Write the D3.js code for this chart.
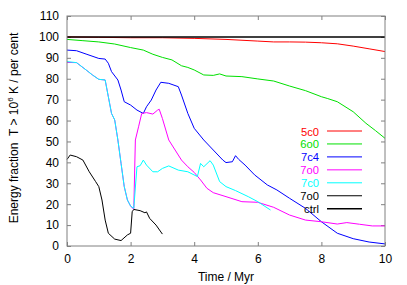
<!DOCTYPE html>
<html>
<head>
<meta charset="utf-8">
<script src="https://cdn.jsdelivr.net/npm/d3@7"></script>
<style>
  body { margin: 0; background: #fff; }
  text { font-family: "Liberation Sans", Arial, sans-serif; }
</style>
</head>
<body>
<script>
// series as [time / Myr, per cent]
var s5c0 = [[0,100],[1,99.8],[2,99.6],[3,99.6],[4,99.3],[5,98.8],[6,98],[6.5,97.6],[7,97.6],[7.5,97.5],[8,97.2],[8.5,96.7],[9,95.6],[9.5,94.3],[10,93]];
var s6o0 = [[0,98.8],[0.5,98.2],[1,97.6],[1.5,96.6],[2,94.9],[2.4,93.7],[2.7,91.7],[3,90.2],[3.3,89],[3.6,86.2],[3.8,85.4],[4,84.2],[4.3,81.8],[4.6,81.6],[4.8,82.3],[5,81.3],[5.5,81],[6,79.9],[6.5,78.9],[7,76.5],[7.5,74.3],[8,71.4],[8.2,70.5],[8.5,69],[9,64.2],[9.4,58.7],[9.7,55.2],[10,51.5]];
var s7c4 = [[0,93.7],[0.3,93.4],[0.6,91.8],[1,89.7],[1.2,89.4],[1.3,87.4],[1.4,83.4],[1.6,79.4],[1.7,74.6],[1.8,69],[2,67.4],[2.2,65],[2.4,63.4],[2.5,66.6],[2.65,69.8],[2.8,74.6],[2.95,78.3],[3.2,77.8],[3.5,76.2],[3.6,72.2],[3.8,63.4],[4,56.3],[4.3,50.7],[4.6,45.9],[4.9,41.1],[5,39.9],[5.2,40.3],[5.3,43.2],[5.4,41.4],[5.6,38.7],[5.9,34],[6.3,29.2],[6.6,26.8],[7,22.8],[7.5,18],[8,11.6],[8.5,6.1],[9,3.5],[9.5,1.9],[10,1]];
var s7o0 = [[0,87.8],[0.3,87.7],[0.6,84.2],[0.8,81.8],[1,79.7],[1.2,79.4],[1.3,71.4],[1.4,63.4],[1.5,60.3],[1.6,50.7],[1.7,39.5],[1.8,28.4],[1.9,22],[2,19.1],[2.1,17.5],[2.15,50.7],[2.25,57],[2.35,63.4],[2.5,63.8],[2.7,63.1],[2.85,65],[2.9,65.4],[3,61],[3.2,50.7],[3.4,45.9],[3.6,41.1],[3.8,37.9],[4,35.2],[4.2,31.6],[4.4,27.6],[4.6,25.5],[5,23.6],[5.5,21.2],[6,20.9],[6.5,18.5],[7,14.8],[7.5,12.4],[8,11.6],[8.5,10.5],[8.8,11.2],[9.2,10.4],[9.6,9.6],[10,9.6]];
var s7c0 = [[0,88.2],[0.3,87.7],[0.6,84.2],[0.8,81.8],[1,79.7],[1.2,79.4],[1.3,71.4],[1.4,63.4],[1.5,60.3],[1.6,50.7],[1.7,39.5],[1.8,28.4],[1.9,22],[2,19.1],[2.1,18],[2.2,37.9],[2.3,38.4],[2.4,41.1],[2.5,38.7],[2.7,35.5],[2.85,35.5],[3,37.1],[3.2,38.3],[3.5,36.3],[3.8,35.5],[4.1,33.2],[4.2,39.5],[4.3,37.9],[4.5,40.8],[4.6,38.7],[4.8,30.8],[5,28.4],[5.3,26.5],[5.7,23.6],[6,21.2],[6.4,17.2]];
var s7o0b = [[0,41.4],[0.1,43.5],[0.3,42.7],[0.5,41.1],[0.7,35.5],[0.9,30.8],[1,28.4],[1.1,22],[1.2,12.4],[1.3,6.1],[1.5,3.3],[1.7,2.6],[1.9,5.3],[2,6.1],[2.05,16.4],[2.1,17.5],[2.3,16.9],[2.45,15.9],[2.5,16.3],[2.6,13.2],[2.8,10],[3,5.7]];
var sCtrl = [[0,100],[10,100]];

var names = ['5c0', '6o0', '7c4', '7o0', '7c0', '7o0', 'ctrl'];
var colors = ['#ff0000', '#00e000', '#0000ff', '#ff00ff', '#00ffff', '#000000', '#000000'];
var series = [s5c0, s6o0, s7c4, s7o0, s7c0, s7o0b, sCtrl];

var xTicks = [0, 2, 4, 6, 8, 10];
var yTicks = [0, 10, 20, 30, 40, 50, 60, 70, 80, 90, 100, 110];

var margin = { top: 16, right: 22, bottom: 39, left: 67 };
var W = 407, H = 285;
var width = W - margin.left - margin.right;
var height = H - margin.top - margin.bottom;

var svg = d3.select('body').append('svg')
  .attr('width', W)
  .attr('height', H);

var g = svg.append('g')
  .attr('transform', `translate(${margin.left}, ${margin.top})`);

var xScale = d3.scaleLinear().domain([0, 10]).range([0, width]);
var yScale = d3.scaleLinear().domain([0, 110]).range([height, 0]);

var frameColor = '#808080';

// axes with inward ticks, mirrored on top and right
function styleAxis(sel) {
  sel.select('.domain').remove();
  sel.selectAll('line').attr('stroke', frameColor);
  sel.selectAll('text')
    .attr('fill', '#000')
    .style('font-size', '12px')
    .style('font-family', '"Liberation Sans", Arial, sans-serif');
}

g.append('g')
  .attr('transform', `translate(0, ${height})`)
  .call(d3.axisBottom(xScale).tickValues(xTicks).tickSizeInner(-4).tickSizeOuter(0).tickPadding(8))
  .call(styleAxis);

g.append('g')
  .call(d3.axisLeft(yScale).tickValues(yTicks).tickSizeInner(-4).tickSizeOuter(0).tickPadding(8))
  .call(styleAxis);

g.append('g')
  .call(d3.axisTop(xScale).tickValues(xTicks).tickSizeInner(-4).tickSizeOuter(0).tickFormat(''))
  .call(styleAxis);

g.append('g')
  .attr('transform', `translate(${width}, 0)`)
  .call(d3.axisRight(yScale).tickValues(yTicks).tickSizeInner(-4).tickSizeOuter(0).tickFormat(''))
  .call(styleAxis);

var line = d3.line()
  .x(function(d) { return xScale(d[0]); })
  .y(function(d) { return yScale(d[1]); });

series.forEach(function(s, i) {
  g.append('path')
    .datum(s)
    .attr('fill', 'none')
    .attr('stroke', colors[i])
    .attr('stroke-width', i == 6 ? 1.5 : 1)
    .attr('d', line);
});

// frame
g.append('rect')
  .attr('width', width)
  .attr('height', height)
  .attr('fill', 'none')
  .attr('stroke', frameColor)
  .attr('stroke-width', 1);

// legend
var legend = g.append('g').attr('transform', `translate(${319 - margin.left}, ${131 - margin.top})`);
names.forEach(function(n, i) {
  var row = legend.append('g').attr('transform', `translate(0, ${i * 12.95})`);
  row.append('text')
    .attr('x', 0)
    .attr('y', 4.5)
    .attr('text-anchor', 'end')
    .attr('fill', colors[i])
    .style('font-size', '11.2px')
    .text(n);
  row.append('line')
    .attr('x1', 8).attr('x2', 43)
    .attr('y1', 0).attr('y2', 0)
    .attr('stroke', colors[i])
    .attr('stroke-width', i == 6 ? 1.5 : 1);
});

// axis labels
svg.append('text')
  .attr('x', margin.left + width / 2)
  .attr('y', 281)
  .attr('text-anchor', 'middle')
  .style('font-size', '12px')
  .text('Time / Myr');

var yl = svg.append('text')
  .attr('transform', `translate(18, ${margin.top + 112}) rotate(-90)`)
  .attr('text-anchor', 'middle')
  .style('font-size', '12px');
yl.append('tspan').text('Energy fraction\u00a0\u00a0T > 10');
yl.append('tspan').attr('dy', -5).style('font-size', '8px').text('6');
yl.append('tspan').attr('dy', 5).text(' K / per cent');
</script>
</body>
</html>
